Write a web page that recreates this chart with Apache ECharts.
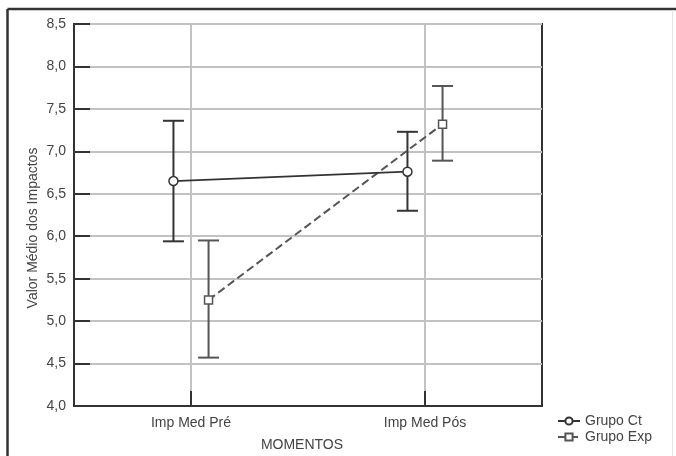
<!DOCTYPE html>
<html>
<head>
<meta charset="utf-8">
<script src="https://cdn.jsdelivr.net/npm/echarts@6/dist/echarts.min.js"></script>
<style>
html,body{margin:0;padding:0;background:#fff;}
#c{width:676px;height:456px;}
</style>
</head>
<body>
<div id="c"></div>
<script>
const categories = ['Imp Med Pré', 'Imp Med Pós'];
const seriesNames = ['Grupo Ct', 'Grupo Exp'];
const ctMean = [6.65, 6.76];
const ctUpper = [7.36, 7.23];
const ctLower = [5.94, 6.30];
const expMean = [5.25, 7.32];
const expUpper = [5.95, 7.77];
const expLower = [4.57, 6.89];
const yTicks = ['4,0','4,5','5,0','5,5','6,0','6,5','7,0','7,5','8,0','8,5'];

const FONT = 'Liberation Sans, Arial, sans-serif';
const OFFSET = 0.15;
// category slots on a 0..4 scale: categories at 1 and 3
const slots = ['', categories[0], '', categories[1], ''];
const catPos = i => 1 + 2 * i;
const showSlot = (idx) => idx === 1 || idx === 3;

function pts(mean, off) { return mean.map((v, i) => [catPos(i) + off, v]); }
function bars(lo, hi, off) { return lo.map((v, i) => [catPos(i) + off, v, hi[i]]); }

function errRender(color) {
  return function (params, api) {
    const x = api.value(0);
    const lo = api.coord([x, api.value(1)]);
    const hi = api.coord([x, api.value(2)]);
    const hw = 10.5;
    const st = { stroke: color, lineWidth: 2 };
    return {
      type: 'group',
      children: [
        { type: 'line', shape: { x1: lo[0], y1: lo[1], x2: hi[0], y2: hi[1] }, style: st },
        { type: 'line', shape: { x1: lo[0] - hw, y1: lo[1], x2: lo[0] + hw, y2: lo[1] }, style: st },
        { type: 'line', shape: { x1: hi[0] - hw, y1: hi[1], x2: hi[0] + hw, y2: hi[1] }, style: st }
      ]
    };
  };
}

const chart = echarts.init(document.getElementById('c'), null, { renderer: 'canvas' });
chart.setOption({
  animation: false,
  backgroundColor: '#fff',
  textStyle: { fontFamily: FONT },
  grid: { left: 74, top: 24, width: 468, height: 382, show: true, borderColor: '#333', borderWidth: 2, backgroundColor: 'transparent' },
  graphic: [
    { type: 'line', shape: { x1: 7.5, y1: 9, x2: 676, y2: 9 }, style: { stroke: '#333', lineWidth: 2.5 }, silent: true },
    { type: 'line', shape: { x1: 7.5, y1: 9, x2: 7.5, y2: 456 }, style: { stroke: '#333', lineWidth: 2.5 }, silent: true },
    { type: 'line', shape: { x1: 672.5, y1: 10, x2: 672.5, y2: 456 }, style: { stroke: '#e4e4e4', lineWidth: 1 }, silent: true },
    { type: 'text', x: 33, y: 228, rotation: Math.PI / 2,
      style: { text: 'Valor Médio dos Impactos', fill: '#444', font: '14px ' + FONT, textAlign: 'center', textVerticalAlign: 'middle' } },
    { type: 'text', x: 302, y: 445,
      style: { text: 'MOMENTOS', fill: '#444', font: '14px ' + FONT, textAlign: 'center', textVerticalAlign: 'middle' } }
  ],
  legend: {
    data: seriesNames,
    orient: 'vertical',
    left: 552, top: 409,
    itemWidth: 22, itemHeight: 9, itemGap: 2,
    textStyle: { color: '#444', fontSize: 14, fontFamily: FONT }
  },
  xAxis: [
    {
      type: 'category', data: slots, boundaryGap: false,
      axisLine: { lineStyle: { color: '#333', width: 2 } },
      axisTick: { show: true, inside: true, length: 15, interval: showSlot, lineStyle: { color: '#333', width: 2 } },
      axisLabel: { interval: showSlot, color: '#444', fontSize: 14, fontFamily: FONT, margin: 10 },
      splitLine: { show: true, interval: showSlot, lineStyle: { color: '#c2c2c2', width: 2 } }
    },
    { type: 'value', min: 0, max: 4, show: false }
  ],
  yAxis: {
    type: 'value', min: 4, max: 8.5, interval: 0.5,
    axisLine: { show: true, lineStyle: { color: '#333', width: 2 } },
    axisTick: { show: true, inside: true, length: 16, lineStyle: { color: '#333', width: 2 } },
    axisLabel: { color: '#444', fontSize: 14, fontFamily: FONT, margin: 8,
      formatter: v => yTicks[Math.round((v - 4) / 0.5)] },
    splitLine: { show: true, lineStyle: { color: '#c2c2c2', width: 2 } }
  },
  series: [
    { type: 'custom', xAxisIndex: 1, renderItem: errRender('#333'), data: bars(ctLower, ctUpper, -OFFSET), z: 2, silent: true },
    { type: 'custom', xAxisIndex: 1, renderItem: errRender('#555'), data: bars(expLower, expUpper, OFFSET), z: 2, silent: true },
    {
      name: seriesNames[0], type: 'line', xAxisIndex: 1, data: pts(ctMean, -OFFSET),
      symbol: 'circle', symbolSize: 9,
      itemStyle: { color: '#fff', borderColor: '#333', borderWidth: 1.5 },
      lineStyle: { color: '#333', width: 1.8 }, z: 4
    },
    {
      name: seriesNames[1], type: 'line', xAxisIndex: 1, data: pts(expMean, OFFSET),
      symbol: 'rect', symbolSize: 8,
      itemStyle: { color: '#fff', borderColor: '#555', borderWidth: 1.5 },
      lineStyle: { color: '#555', width: 2, type: [8, 4] }, z: 3
    }
  ]
});
</script>
</body>
</html>
